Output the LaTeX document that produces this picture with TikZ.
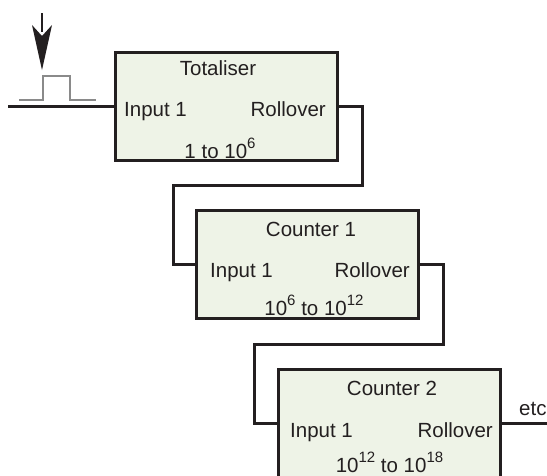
\documentclass[tikz,border=0pt]{standalone}
\usepackage{fontspec}
\setmainfont{Liberation Sans}
\definecolor{boxfill}{HTML}{EEF3E7}
\definecolor{ink}{HTML}{231F20}
\definecolor{pulsegray}{HTML}{8A8A8A}
\newcommand{\supnum}[1]{\raisebox{0.45em}{\fontsize{15}{17}\selectfont #1}}
\begin{document}
\begin{tikzpicture}[x=1pt,y=-1pt,
  blk/.style={draw=ink,line width=3pt,fill=boxfill,minimum width=222pt,minimum height=108pt,inner sep=0pt},
  wire/.style={draw=ink,line width=3pt},
  lbl/.style={font=\fontsize{20.5}{24}\selectfont,text=ink,inner sep=0pt,anchor=base}]
\useasboundingbox (0,0) rectangle (547,475);
\clip (0,0) rectangle (547,475);
% boxes
\node[blk] (b1) at (226.5,106.5) {};
\node[blk] (b2) at (307.5,264.5) {};
\node[blk] (b3) at (389,423.5) {};
% box 1 texts
\node[lbl] (t1) at (218,75) {Totaliser};
\node[lbl,anchor=base west] (i1) at (124,116) {Input 1};
\node[lbl,anchor=base east] (r1) at (326,116) {Rollover};
\node[lbl] (g1) at (220,158) {1 to 10\supnum{6}};
% box 2 texts
\node[lbl] (t2) at (311,236) {Counter 1};
\node[lbl,anchor=base west] (i2) at (210,277) {Input 1};
\node[lbl,anchor=base east] (r2) at (410,277) {Rollover};
\node[lbl] (g2) at (314,315) {10\supnum{6} to 10\supnum{12}};
% box 3 texts
\node[lbl] (t3) at (392,395) {Counter 2};
\node[lbl,anchor=base west] (i3) at (290,437) {Input 1};
\node[lbl,anchor=base east] (r3) at (493,437) {Rollover};
\node[lbl] (g3) at (389.5,472) {10\supnum{12} to 10\supnum{18}};
% input
\coordinate (inl) at (8,106.5);
\draw[wire] (inl) -- (b1.west);
\draw[pulsegray,line width=1.4pt] (19,100) -- (43,100) -- (43,76) -- (70,76) -- (70,100) -- (96,100);
\coordinate (arrtop) at (42,13);
\coordinate (arrtip) at (42,70);
\draw[ink,line width=2.6pt] (arrtop) -- (42,32);
\fill[ink] (arrtip) -- (32,25) -- (42,36) -- (52,25) -- cycle;
% rollover wires
\coordinate (c1a) at (362,185);
\coordinate (c1b) at (173,185);
\draw[wire] (b1.east) -| (c1a) -- (c1b) |- (b2.west);
\coordinate (c2a) at (443,344);
\coordinate (c2b) at (254,344);
\draw[wire] (b2.east) -| (c2a) -- (c2b) |- (b3.west);
\coordinate (outr) at (547,423.5);
\draw[wire] (b3.east) -- (outr);
\node[lbl,anchor=base west] (etc) at (519,415) {etc};
\end{tikzpicture}
\end{document}
